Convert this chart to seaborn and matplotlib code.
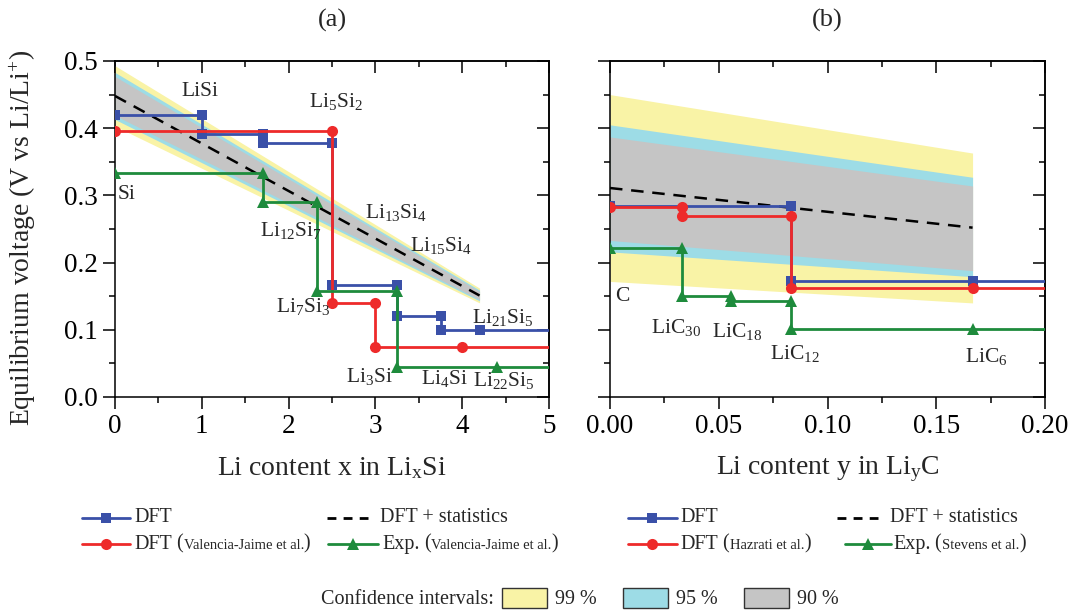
import matplotlib
matplotlib.use("Agg")
import matplotlib.pyplot as plt
import seaborn as sns
from matplotlib.lines import Line2D
from matplotlib.patches import Rectangle
from matplotlib.offsetbox import TextArea, HPacker, AnnotationBbox
from matplotlib.ticker import MultipleLocator, FormatStrFormatter

# ---------------- Li-Si (panel a) ----------------
si_dft_x = [0, 1, 1, 1.71, 1.71, 2.5, 2.5, 3.25, 3.25, 3.75, 3.75, 4.2, 5]
si_dft_v = [0.420, 0.420, 0.391, 0.391, 0.378, 0.378, 0.166, 0.166, 0.121, 0.121, 0.099, 0.099, 0.099]
si_vj_x = [0, 2.5, 2.5, 3, 3, 4, 5]
si_vj_v = [0.396, 0.396, 0.140, 0.140, 0.074, 0.074, 0.074]
si_exp_x = [0, 1.71, 1.71, 2.33, 2.33, 3.25, 3.25, 4.4, 5]
si_exp_v = [0.333, 0.333, 0.290, 0.290, 0.158, 0.158, 0.045, 0.045, 0.045]
si_fit_x = [0, 4.2]
si_fit_v = [0.448, 0.151]
si_ci99 = ([0.403, 0.140], [0.493, 0.162])
si_ci95 = ([0.413, 0.143], [0.483, 0.159])
si_ci90 = ([0.419, 0.145], [0.477, 0.157])
si_labels = ["LiSi", r"Li$_\mathrm{5}$Si$_\mathrm{2}$", "Si", r"Li$_\mathrm{12}$Si$_\mathrm{7}$",
             r"Li$_\mathrm{13}$Si$_\mathrm{4}$", r"Li$_\mathrm{15}$Si$_\mathrm{4}$",
             r"Li$_\mathrm{7}$Si$_\mathrm{3}$", r"Li$_\mathrm{21}$Si$_\mathrm{5}$",
             r"Li$_\mathrm{3}$Si", r"Li$_\mathrm{4}$Si", r"Li$_\mathrm{22}$Si$_\mathrm{5}$"]
si_label_x = [0.98, 2.55, 0.13, 2.03, 3.24, 3.76, 2.17, 4.47, 2.93, 3.79, 4.48]
si_label_v = [0.454, 0.440, 0.302, 0.248, 0.275, 0.226, 0.135, 0.118, 0.030, 0.027, 0.024]

# ---------------- Li-C (panel b) ----------------
c_dft_x = [0, 0.0833, 0.0833, 0.1667, 0.2]
c_dft_v = [0.284, 0.284, 0.172, 0.172, 0.172]
c_hz_x = [0, 0.033, 0.033, 0.0833, 0.0833, 0.1667, 0.2]
c_hz_v = [0.283, 0.283, 0.269, 0.269, 0.162, 0.162, 0.162]
c_exp_x = [0, 0.033, 0.033, 0.0556, 0.0556, 0.0833, 0.0833, 0.1667, 0.2]
c_exp_v = [0.221, 0.221, 0.151, 0.151, 0.143, 0.143, 0.101, 0.101, 0.101]
c_fit_x = [0, 0.1667]
c_fit_v = [0.311, 0.252]
c_ci99 = ([0.172, 0.140], [0.450, 0.363])
c_ci95 = ([0.216, 0.179], [0.405, 0.327])
c_ci90 = ([0.233, 0.188], [0.387, 0.314])
c_labels = ["C", r"LiC$_\mathrm{30}$", r"LiC$_\mathrm{18}$", r"LiC$_\mathrm{12}$", r"LiC$_\mathrm{6}$"]
c_label_x = [0.0055, 0.0303, 0.0584, 0.085, 0.173]
c_label_v = [0.150, 0.103, 0.098, 0.065, 0.060]

BLUE = "#3A50A8"
RED = "#EE2A2A"
GREEN = "#1E8B3C"
YELLOW = "#F9F3A6"
CYAN = "#9DDCE6"
GRAY = "#C5C5C5"

sns.set_theme(style="ticks")
plt.rcParams["font.family"] = ["Liberation Serif", "DejaVu Serif"]
plt.rcParams["mathtext.fontset"] = "custom"
plt.rcParams["mathtext.rm"] = "Liberation Serif"
plt.rcParams["mathtext.it"] = "Liberation Serif:italic"
plt.rcParams["axes.edgecolor"] = "black"
plt.rcParams["axes.linewidth"] = 1.1
plt.rcParams["xtick.color"] = "black"
plt.rcParams["ytick.color"] = "black"

W, H = 1071, 610
fig = plt.figure(figsize=(W / 100, H / 100), dpi=100)
ax_a = fig.add_axes([115 / W, 1 - 397 / H, 434 / W, 336 / H])
ax_b = fig.add_axes([610 / W, 1 - 397 / H, 435 / W, 336 / H])

LW = 2.0
TICK_FS = 19.5
AXLABEL_FS = 20
NOTE_FS = 15.5
TITLE_FS = 19


def band(ax, x, ci, color):
    ax.fill_between(x, ci[0], ci[1], color=color, lw=0, zorder=1)


def steps(ax, x, v, color, marker, ms):
    sns.lineplot(x=x, y=v, ax=ax, color=color, marker=marker, markersize=ms,
                 markeredgewidth=0, lw=LW, sort=False, estimator=None,
                 markevery=list(range(len(x) - 1)), zorder=3, legend=False)


def style_axes(ax, xmaj, xmin, xfmt, show_ylabels):
    ax.set_ylim(0, 0.5)
    ax.xaxis.set_major_locator(MultipleLocator(xmaj))
    ax.xaxis.set_minor_locator(MultipleLocator(xmin))
    ax.yaxis.set_major_locator(MultipleLocator(0.1))
    ax.yaxis.set_minor_locator(MultipleLocator(0.05))
    ax.xaxis.set_major_formatter(FormatStrFormatter(xfmt))
    ax.yaxis.set_major_formatter(FormatStrFormatter("%.1f"))
    ax.tick_params(which="both", direction="out", width=1.1, labelsize=TICK_FS,
                   labelleft=show_ylabels, pad=4)
    ax.tick_params(which="major", length=8.5)
    ax.tick_params(which="minor", length=4.5)
    for sp in ax.spines.values():
        sp.set_visible(True)
    top = ax.secondary_xaxis("top")
    right = ax.secondary_yaxis("right")
    top.xaxis.set_major_locator(MultipleLocator(xmaj))
    top.xaxis.set_minor_locator(MultipleLocator(xmin))
    right.yaxis.set_major_locator(MultipleLocator(0.1))
    right.yaxis.set_minor_locator(MultipleLocator(0.05))
    for sec in (top, right):
        sec.tick_params(which="both", direction="in", width=1.1,
                        labeltop=False, labelright=False)
        sec.tick_params(which="major", length=8.5)
        sec.tick_params(which="minor", length=4.5)


# panel (a)
for ci, col in ((si_ci99, YELLOW), (si_ci95, CYAN), (si_ci90, GRAY)):
    band(ax_a, si_fit_x, ci, col)
sns.lineplot(x=si_fit_x, y=si_fit_v, ax=ax_a, color="black", lw=1.8,
             linestyle=(0, (5, 3.5)), zorder=2, legend=False)
steps(ax_a, si_dft_x, si_dft_v, BLUE, "s", 7)
steps(ax_a, si_vj_x, si_vj_v, RED, "o", 8)
steps(ax_a, si_exp_x, si_exp_v, GREEN, "^", 9)
ax_a.set_xlim(0, 5)
style_axes(ax_a, 1, 0.5, "%d", True)
for t, x, v in zip(si_labels, si_label_x, si_label_v):
    ax_a.text(x, v, t, fontsize=NOTE_FS, ha="center", va="center", zorder=4)
ax_a.set_xlabel(r"Li content x in Li$_\mathrm{x}$Si", fontsize=AXLABEL_FS)
ax_a.xaxis.set_label_coords(0.5, -0.172)
ax_a.set_ylabel(r"Equilibrium voltage (V vs Li/Li$^{+}$)", fontsize=AXLABEL_FS)
ax_a.yaxis.set_label_coords(-0.178, 0.475)
ax_a.text(0.5, 1.12, "(a)", transform=ax_a.transAxes, fontsize=TITLE_FS,
          ha="center", va="center")

# panel (b)
for ci, col in ((c_ci99, YELLOW), (c_ci95, CYAN), (c_ci90, GRAY)):
    band(ax_b, c_fit_x, ci, col)
sns.lineplot(x=c_fit_x, y=c_fit_v, ax=ax_b, color="black", lw=1.8,
             linestyle=(0, (5, 3.5)), zorder=2, legend=False)
steps(ax_b, c_dft_x, c_dft_v, BLUE, "s", 7)
steps(ax_b, c_hz_x, c_hz_v, RED, "o", 8)
steps(ax_b, c_exp_x, c_exp_v, GREEN, "^", 9)
ax_b.set_xlim(0, 0.2)
style_axes(ax_b, 0.05, 0.025, "%.2f", False)
for t, x, v in zip(c_labels, c_label_x, c_label_v):
    ax_b.text(x, v, t, fontsize=NOTE_FS, ha="center", va="center", zorder=4)
ax_b.set_xlabel(r"Li content y in Li$_\mathrm{y}$C", fontsize=AXLABEL_FS)
ax_b.xaxis.set_label_coords(0.5, -0.172)
ax_b.set_ylabel("")
ax_b.text(0.5, 1.12, "(b)", transform=ax_b.transAxes, fontsize=TITLE_FS,
          ha="center", va="center")


# ---------------- legends below the panels ----------------
def fx(px):
    return px / W


def fy(py):
    return 1 - py / H


def handle(x0, x1, y, color, marker=None, ms=8, ls="-"):
    fig.add_artist(Line2D([fx(x0), fx(x1)], [fy(y), fy(y)], color=color, lw=LW,
                          linestyle=ls, transform=fig.transFigure))
    if marker:
        fig.add_artist(Line2D([fx((x0 + x1) / 2)], [fy(y)], color=color, marker=marker,
                              markersize=ms, markeredgewidth=0, transform=fig.transFigure))


def label(x, y, main, ref=None):
    parts = [TextArea(main, textprops=dict(fontsize=14.5))]
    if ref:
        parts += [TextArea(" (", textprops=dict(fontsize=14.5)),
                  TextArea(ref, textprops=dict(fontsize=10.5)),
                  TextArea(")", textprops=dict(fontsize=14.5))]
    box = HPacker(children=parts, align="baseline", pad=0, sep=0)
    ab = AnnotationBbox(box, (fx(x), fy(y)), xycoords="figure fraction",
                        box_alignment=(0, 0.5), frameon=False, pad=0)
    fig.add_artist(ab)


DASH = (0, (3.2, 2.6))
# left legend
handle(82, 130, 518, BLUE, "s", 7)
label(134, 518, "DFT")
handle(327, 368, 518, "black", ls=DASH)
label(380, 518, "DFT + statistics")
handle(82, 130, 544, RED, "o", 8)
label(134, 544, "DFT", "Valencia-Jaime et al.")
handle(328, 378, 544, GREEN, "^", 9)
label(382, 544, "Exp.", "Valencia-Jaime et al.")
# right legend
handle(628, 677, 518, BLUE, "s", 7)
label(680, 518, "DFT")
handle(837, 878, 518, "black", ls=DASH)
label(890, 518, "DFT + statistics")
handle(628, 677, 544, RED, "o", 8)
label(680, 544, "DFT", "Hazrati et al.")
handle(845, 891, 544, GREEN, "^", 9)
label(893, 544, "Exp.", "Stevens et al.")

# confidence interval key
fig.text(fx(321), fy(599), "Confidence intervals:", fontsize=14.5, ha="left", va="center")
for x0, col, txt in ((502, YELLOW, "99 %"), (623, CYAN, "95 %"), (744, GRAY, "90 %")):
    fig.add_artist(Rectangle((fx(x0), fy(608)), fx(45), 20 / H, facecolor=col,
                             edgecolor="#333333", lw=1.0, transform=fig.transFigure))
    fig.text(fx(x0 + 53), fy(599), txt, fontsize=14.5, ha="left", va="center")

fig.savefig("out.png", dpi=100)
